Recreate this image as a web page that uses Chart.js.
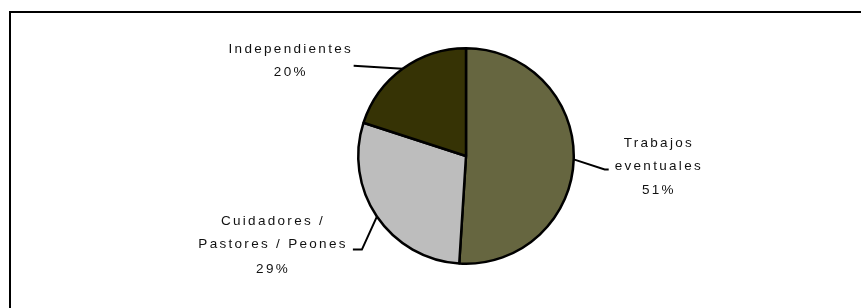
<!DOCTYPE html>
<html>
<head>
<meta charset="utf-8">
<script src="https://cdn.jsdelivr.net/npm/chart.js@4"></script>
<style>
  html, body { margin: 0; padding: 0; background: #fff; }
  canvas { display: block; }
</style>
</head>
<body>
<canvas id="myChart" width="861" height="308"></canvas>
<script>
const categories = [['Trabajos', 'eventuales'], ['Cuidadores /', 'Pastores / Peones'], ['Independientes']];
const shares = [51, 29, 20];
const sliceColors = ['#666640', '#bdbdbd', '#363305'];

// leader line and text placement, relative to the slice's outer edge point
const labelLayout = [
    { elbow: [31, 10], end: [35, 10], textX: 84, lines: [-16, 7, 31] },
    { elbow: [-15, 33], end: [-24, 33], textX: -105, lines: [5, 28, 53] },
    { elbow: [-49, -3], end: [-49, -3], textX: -113, lines: [-20, 3] }
];

const frame = {
    id: 'frame',
    beforeDraw(chart) {
        const c = chart.ctx;
        c.save();
        c.fillStyle = '#000';
        c.fillRect(9, 11, chart.width - 9, 2);
        c.fillRect(9, 11, 2, chart.height - 11);
        c.restore();
    }
};

const sliceLabels = {
    id: 'sliceLabels',
    afterDatasetsDraw(chart) {
        const c = chart.ctx;
        const arcs = chart.getDatasetMeta(0).data;
        c.save();
        c.font = '13.5px "Liberation Sans", Arial, sans-serif';
        c.letterSpacing = '2.3px';
        c.textAlign = 'center';
        c.textBaseline = 'middle';
        arcs.forEach((arc, i) => {
            const p = arc.getProps(['x', 'y', 'startAngle', 'endAngle', 'outerRadius'], true);
            const mid = (p.startAngle + p.endAngle) / 2;
            const ex = p.x + Math.cos(mid) * p.outerRadius;
            const ey = p.y + Math.sin(mid) * p.outerRadius;
            const lay = labelLayout[i];
            c.strokeStyle = '#000';
            c.lineWidth = 2;
            c.beginPath();
            c.moveTo(ex, ey);
            c.lineTo(ex + lay.elbow[0], ey + lay.elbow[1]);
            c.lineTo(ex + lay.end[0], ey + lay.end[1]);
            c.stroke();

            const lines = categories[i].concat([shares[i] + '%']);
            c.fillStyle = '#111';
            lines.forEach((t, j) => {
                c.fillText(t, ex + lay.textX + 1.15, ey + lay.lines[j]);
            });
        });
        c.restore();
    }
};

const myChart = new Chart(document.getElementById('myChart').getContext('2d'), {
    type: 'pie',
    data: {
        labels: categories.map(l => l.join(' ')),
        datasets: [{
            data: shares,
            backgroundColor: sliceColors,
            borderColor: '#000',
            borderWidth: 2.5
        }]
    },
    options: {
        responsive: false,
        animation: false,
        layout: { padding: { left: 200, right: 129, top: 47, bottom: 43 } },
        plugins: {
            legend: { display: false },
            tooltip: { enabled: false }
        }
    },
    plugins: [frame, sliceLabels]
});
</script>
</body>
</html>
